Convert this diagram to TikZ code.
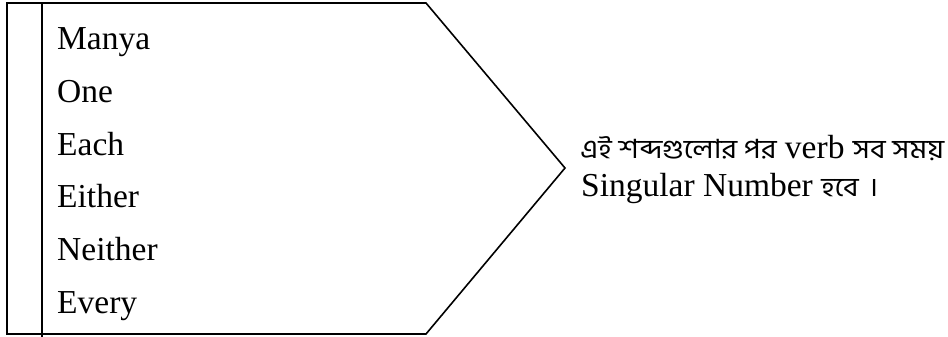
\documentclass[tikz,border=0pt]{standalone}
\usepackage{fontspec}
\usepackage{graphicx}
\setmainfont{Liberation Serif}
\newfontfamily\bnfont[Script=Bengali]{Hind Siliguri}
\newcommand{\bn}[1]{\scalebox{1.12}[1]{\bnfont\fontsize{26.5}{26.5}\selectfont #1}}
\begin{document}
\begin{tikzpicture}[x=1pt,y=-1pt,
  word/.style={anchor=base west,inner sep=0pt,font=\fontsize{33.5}{33.5}\selectfont},
  note/.style={anchor=base west,inner sep=0pt,font=\fontsize{33.5}{33.5}\selectfont},
  frame/.style={line width=1.6pt,line join=miter}]
\useasboundingbox (0,0) rectangle (948,337);
\coordinate (tl) at (7,3);
\coordinate (tr) at (426,3);
\coordinate (tip) at (565,168);
\coordinate (br) at (426,334);
\coordinate (bl) at (7,334);
\coordinate (vt) at (42,3);
\coordinate (vb) at (42,337);
\draw[frame] (tl) -- (tr) -- (tip) -- (br) -- (bl) -- cycle;
\draw[frame] (vt) -- (vb);
\node[word] (w1) at (57,50) {Manya};
\node[word] (w2) at (57,102.6) {One};
\node[word] (w3) at (57,155.2) {Each};
\node[word] (w4) at (57,207.8) {Either};
\node[word] (w5) at (57,260.4) {Neither};
\node[word] (w6) at (57,313) {Every};
\node[note] (n1) at (580,158) {\bn{এই শব্দগুলোর পর} verb \bn{সব সময়}};
\node[note] (n2) at (581,196) {Singular Number \bn{হবে}\hspace{10pt}\bn{।}};
\end{tikzpicture}
\end{document}
